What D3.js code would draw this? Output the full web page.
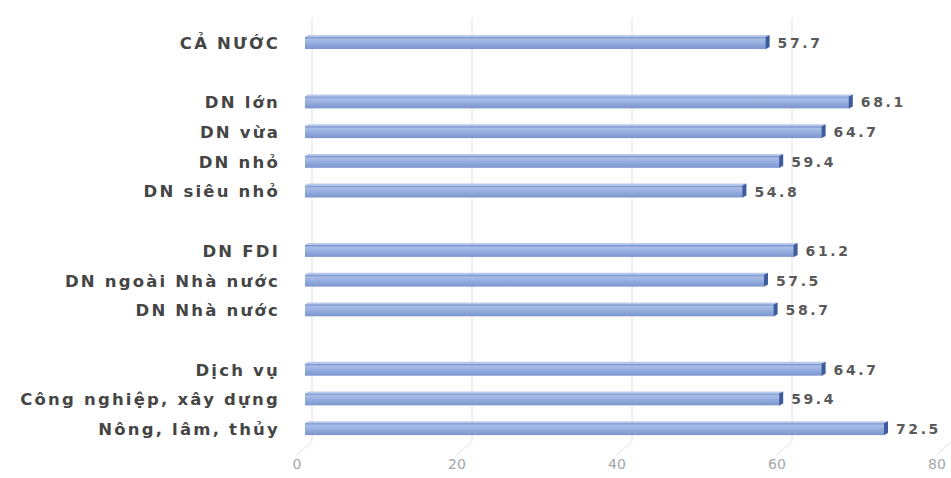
<!DOCTYPE html>
<html>
<head>
<meta charset="utf-8">
<script src="https://cdn.jsdelivr.net/npm/d3@7"></script>
<style>
  html, body { margin: 0; padding: 0; background: #ffffff; }
  svg { display: block; }
</style>
</head>
<body>
<svg id="chart" width="951" height="478"></svg>
<script>
// Categories top to bottom; empty strings are spacer rows between groups
const categories = [
  "CẢ NƯỚC", "", "DN lớn", "DN vừa", "DN nhỏ", "DN siêu nhỏ", "",
  "DN FDI", "DN ngoài Nhà nước", "DN Nhà nước", "",
  "Dịch vụ", "Công nghiệp, xây dựng", "Nông, lâm, thủy"
];
const values = [57.7, null, 68.1, 64.7, 59.4, 54.8, null, 61.2, 57.5, 58.7, null, 64.7, 59.4, 72.5];
const tickValues = [0, 20, 40, 60, 80];

const svg = d3.select("#chart");
const rows = categories.map((c, i) => ({ id: i, label: c, value: values[i] }));

// 3D depth offsets: back wall sits to the right and above the front floor edge
const depthX = 15, depthY = 14;
const backLeft = 312;             // x of value 0 on the back wall
const floorBackY = 441;
const plotTop = 18;

const xBack = d3.scaleLinear().domain([0, 80]).range([backLeft, backLeft + 640]);
const xFront = d3.scaleLinear().domain([0, 80]).range([backLeft - depthX, backLeft - depthX + 640]);
const xBar = d3.scaleLinear().domain([0, 80]).range([backLeft - 7, backLeft - 7 + 640]);

const y = d3.scaleBand()
  .domain(rows.map(r => r.id))
  .range([28.2, 444])
  .paddingInner(0.6)
  .paddingOuter(0.3);

// gradient for the bar front face
const defs = svg.append("defs");
const g1 = defs.append("linearGradient").attr("id", "barFront")
  .attr("x1", 0).attr("y1", 0).attr("x2", 0).attr("y2", 1);
[["0%", "#6a88c6"], ["18%", "#a9bde7"], ["55%", "#93acde"], ["100%", "#7b94cd"]]
  .forEach(([o, c]) => g1.append("stop").attr("offset", o).attr("stop-color", c));

// back wall gridlines
svg.append("g").selectAll("line").data(tickValues).join("line")
  .attr("x1", d => xBack(d)).attr("x2", d => xBack(d))
  .attr("y1", plotTop).attr("y2", floorBackY)
  .attr("stroke", "#e0e0e0").attr("stroke-width", 1);

// floor gridlines running from the back wall to the front edge
svg.append("g").selectAll("line").data(tickValues).join("line")
  .attr("x1", d => xBack(d)).attr("x2", d => xFront(d))
  .attr("y1", floorBackY).attr("y2", floorBackY + depthY)
  .attr("stroke", "#e0e0e0").attr("stroke-width", 1);

// bars
const barRows = rows.filter(r => r.value != null);
const bars = svg.append("g").selectAll("g").data(barRows).join("g");
const bh = y.bandwidth();

// top face
bars.append("path")
  .attr("d", d => {
    const y0 = y(d.id), x0 = xBar(0), x1 = xBar(d.value);
    return `M${x0},${y0} L${x0 + 3},${y0 - 2} L${x1 + 3},${y0 - 2} L${x1},${y0} Z`;
  })
  .attr("fill", "#b9c9ec");

// front face
bars.append("rect")
  .attr("x", xBar(0))
  .attr("y", d => y(d.id))
  .attr("width", d => xBar(d.value) - xBar(0))
  .attr("height", bh)
  .attr("fill", "url(#barFront)");

// end side face
bars.append("path")
  .attr("d", d => {
    const y0 = y(d.id), x1 = xBar(d.value);
    return `M${x1 - 1},${y0} L${x1 + 3},${y0 - 2} L${x1 + 3},${y0 + bh - 2} L${x1 - 1},${y0 + bh} Z`;
  })
  .attr("fill", "#3e5c9c");

// value labels
bars.append("text")
  .attr("x", d => xBar(d.value) + 11)
  .attr("y", d => y(d.id) + bh / 2)
  .attr("dy", "0.36em")
  .attr("font-family", "DejaVu Sans, sans-serif")
  .attr("font-weight", "bold")
  .attr("font-size", 14)
  .attr("letter-spacing", 2.6)
  .attr("fill", "#595959")
  .text(d => d.value.toFixed(1));

// category labels
svg.append("g").selectAll("text").data(rows.filter(r => r.label)).join("text")
  .attr("x", 280)
  .attr("y", d => y(d.id) + bh / 2)
  .attr("dy", "0.36em")
  .attr("text-anchor", "end")
  .attr("font-family", "DejaVu Sans, sans-serif")
  .attr("font-weight", "bold")
  .attr("font-size", 16.5)
  .attr("letter-spacing", 2.2)
  .attr("fill", "#454545")
  .text(d => d.label);

// x axis tick labels along the front floor edge
svg.append("g").selectAll("text").data(tickValues).join("text")
  .attr("x", d => xFront(d))
  .attr("y", 464)
  .attr("dy", "0.36em")
  .attr("text-anchor", "middle")
  .attr("font-family", "DejaVu Sans, sans-serif")
  .attr("font-size", 14)
  .attr("fill", "#a6a6a6")
  .text(d => d);
</script>
</body>
</html>
